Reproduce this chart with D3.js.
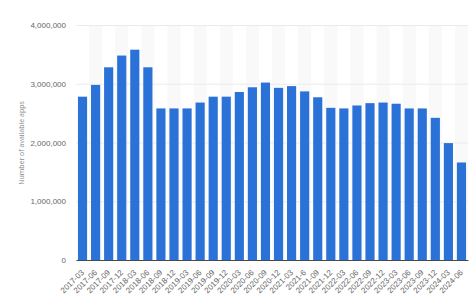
<!DOCTYPE html>
<html>
<head>
<meta charset="utf-8">
<script src="https://cdn.jsdelivr.net/npm/d3@7"></script>
<style>
  html, body { margin: 0; padding: 0; background: #fff; }
  svg { display: block; font-family: "Open Sans", "Noto Sans", sans-serif; }
</style>
</head>
<body>
<div class="chart"></div>
<script>
// quarters shown on the x axis (label text kept as printed, incl. "2021-6")
const quarters = [
  '2017-03', '2017-06', '2017-09', '2017-12', '2018-03', '2018-06', '2018-09', '2018-12',
  '2019-03', '2019-06', '2019-09', '2019-12', '2020-03', '2020-06', '2020-09', '2020-12',
  '2021-03', '2021-6', '2021-09', '2021-12', '2022-03', '2022-06', '2022-09', '2022-12',
  '2023-03', '2023-06', '2023-09', '2023-12', '2024-03', '2024-06'
];
// number of available apps
const apps = [
  2780000, 2980000, 3280000, 3480000, 3580000, 3280000, 2580000, 2580000,
  2580000, 2680000, 2780000, 2780000, 2860000, 2940000, 3020000, 2930000,
  2960000, 2870000, 2770000, 2590000, 2580000, 2630000, 2670000, 2680000,
  2660000, 2580000, 2580000, 2420000, 1990000, 1660000
];
const yTicks = [0, 1000000, 2000000, 3000000, 4000000];

const width = 474, height = 303;
const margin = {top: 25, right: 6, bottom: 43, left: 76};
const innerW = width - margin.left - margin.right;
const innerH = height - margin.top - margin.bottom;

const svg = d3.select('.chart').append('svg')
    .attr('width', width)
    .attr('height', height);

const g = svg.append('g')
    .attr('transform', 'translate(' + margin.left + ',' + margin.top + ')');

const xScale = d3.scaleBand()
    .domain(quarters)
    .range([0, innerW])
    .paddingInner(0.3)
    .paddingOuter(0.15);

const yScale = d3.scaleLinear()
    .domain([0, 4000000])
    .range([innerH, 0]);

// alternating column shading
g.selectAll('.stripe')
    .data(quarters.filter((d, i) => i % 2 === 1))
    .enter().append('rect')
    .attr('class', 'stripe')
    .attr('x', d => xScale(d) - xScale.step() * xScale.paddingInner() / 2)
    .attr('y', 0)
    .attr('width', xScale.step())
    .attr('height', innerH)
    .attr('fill', '#f9f9f9');

// y axis with gridlines
const yAxis = g.append('g')
    .attr('class', 'y axis')
    .call(d3.axisLeft(yScale).tickValues(yTicks).tickSize(-innerW).tickPadding(10)
        .tickFormat(d3.format(',')));
yAxis.select('.domain').remove();
yAxis.selectAll('line').attr('stroke', '#ebebeb');
yAxis.selectAll('text').attr('fill', '#666').style('font-size', '8px');

// bars
g.selectAll('.bar')
    .data(quarters)
    .enter().append('rect')
    .attr('class', 'bar')
    .attr('x', d => xScale(d))
    .attr('y', (d, i) => yScale(apps[i]))
    .attr('width', xScale.bandwidth())
    .attr('height', (d, i) => innerH - yScale(apps[i]))
    .attr('fill', '#2b72d8');

// x axis
const xAxis = g.append('g')
    .attr('class', 'x axis')
    .attr('transform', 'translate(0,' + innerH + ')')
    .call(d3.axisBottom(xScale).tickSize(0));
xAxis.select('.domain').attr('stroke', '#4a4a4a').attr('stroke-width', 1);
xAxis.selectAll('text')
    .attr('fill', '#666')
    .style('font-size', '8px')
    .attr('text-anchor', 'end')
    .attr('x', 0)
    .attr('y', 0)
    .attr('dy', '0.35em')
    .attr('transform', 'translate(0,11) rotate(-45)');

// y axis title
svg.append('text')
    .attr('transform', 'translate(24,143) rotate(-90)')
    .attr('text-anchor', 'middle')
    .attr('fill', '#888')
    .style('font-size', '7px')
    .text('Number of available apps');
</script>
</body>
</html>
